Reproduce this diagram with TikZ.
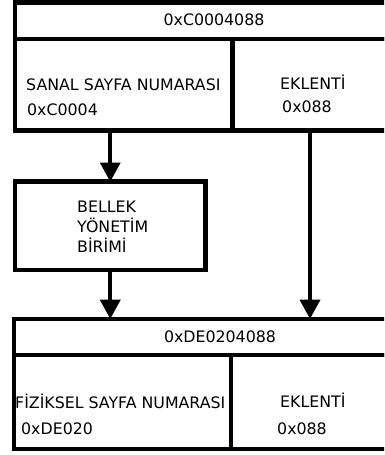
\documentclass[tikz,border=0pt]{standalone}
\usepackage{fontspec}
\setmainfont{DejaVu Sans}
\usetikzlibrary{arrows.meta}
\begin{document}
\begin{tikzpicture}[x=1pt,y=-1pt,
  cell/.style={draw=black, line width=4.2pt, anchor=north west, inner sep=0pt, outer sep=0pt},
  lbl/.style={anchor=base west, inner sep=0pt, font=\fontsize{15.8}{20}\selectfont},
  clbl/.style={anchor=base, inner sep=0pt, font=\fontsize{15.8}{20}\selectfont},
  arr/.style={line width=4pt, -{Triangle[width=21pt,length=19pt,line width=0pt]}}]
\useasboundingbox (0,0) rectangle (384,455);
\clip (0,0) rectangle (384,455);
% top address box
\node[cell, minimum width=405pt, minimum height=36.5pt] (hdr1) at (15,2.5) {};
\node[cell, minimum width=217.5pt, minimum height=91.5pt] (vpn) at (15,39) {};
\node[cell, minimum width=187.5pt, minimum height=91.5pt] (off1) at (232.5,39) {};
\node[clbl] (t1) at (214,25) {0xC0004088};
\node[lbl] (t2) at (26,90) {SANAL SAYFA NUMARASI};
\node[lbl] (t3) at (27,115) {0xC0004};
\node[lbl] (t4) at (280,89) {EKLENTİ};
\node[lbl] (t5) at (282,112) {0x088};
% MMU
\node[cell, minimum width=190.5pt, minimum height=88.5pt] (mmu) at (15,181.5) {};
\node[lbl] (m1) at (77,212) {BELLEK};
\node[lbl] (m2) at (77,232) {YÖNETİM};
\node[lbl] (m3) at (77,252) {BİRİMİ};
% bottom address box
\node[cell, minimum width=406pt, minimum height=36.3pt] (hdr2) at (14,318.7) {};
\node[cell, minimum width=217pt, minimum height=94pt] (ppn) at (14,355) {};
\node[cell, minimum width=189pt, minimum height=94pt] (off2) at (231,355) {};
\node[clbl] (b1) at (220,342) {0xDE0204088};
\node[lbl] (b2) at (15,408) {FİZİKSEL SAYFA NUMARASI};
\node[lbl] (b3) at (21,434) {0xDE020};
\node[lbl] (b4) at (280,407) {EKLENTİ};
\node[lbl] (b5) at (277,434) {0x088};
% arrows
\coordinate (rx) at (310,0);
\draw[arr] (mmu.north |- vpn.south) -- (mmu.north);
\draw[arr] (mmu.south) -- (mmu.south |- hdr2.north);
\draw[arr] (rx |- off1.south) -- (rx |- hdr2.north);
\end{tikzpicture}
\end{document}
